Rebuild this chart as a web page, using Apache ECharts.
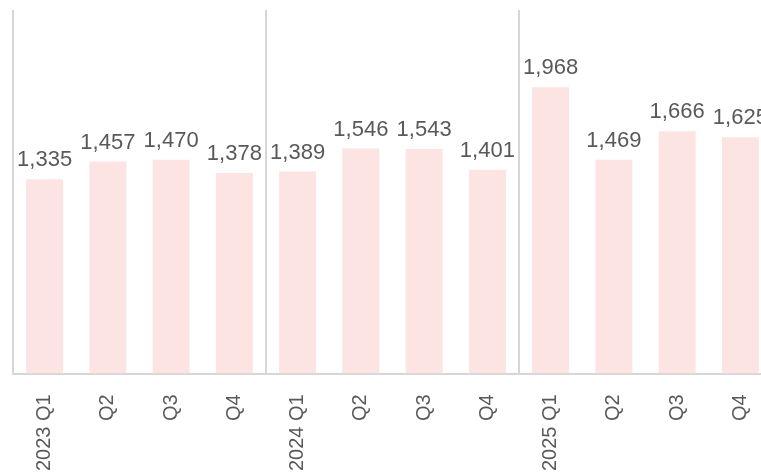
<!DOCTYPE html>
<html><head><meta charset="utf-8">
<script src="https://cdn.jsdelivr.net/npm/echarts@6/dist/echarts.min.js"></script>
<style>html,body{margin:0;padding:0;background:#fff;overflow:hidden;width:761px;height:474px}#c{width:790px;height:474px}</style>
</head><body><div id="c"></div>
<script>
const categories = ["2023 Q1","Q2","Q3","Q4","2024 Q1","Q2","Q3","Q4","2025 Q1","Q2","Q3","Q4"];
const values = [1335,1457,1470,1378,1389,1546,1543,1401,1968,1469,1666,1625];
const chart = echarts.init(document.getElementById('c'), null, {renderer:'canvas'});
chart.setOption({
  animation:false,
  grid:{left:13, top:10, width:759, bottom:98, containLabel:false},
  xAxis:{
    type:'category', data:categories, boundaryGap:true,
    axisLine:{show:true, lineStyle:{color:'#d6d6d6', width:2}},
    axisTick:{show:false},
    axisLabel:{rotate:90, interval:0, margin:21, color:'#595959', fontSize:20, fontFamily:'Liberation Sans'},
    splitLine:{show:true, interval:function(i){return i%4===0;}, lineStyle:{color:'#d6d6d6', width:2}}
  },
  yAxis:{type:'value', min:0, max:2500, show:false, splitLine:{show:false}},
  series:[{
    type:'bar', data:values, barWidth:37,
    itemStyle:{color:'#fce4e3'},
    label:{show:true, position:'top', distance:8, color:'#595959', fontSize:22, fontFamily:'Liberation Sans',
      formatter:function(p){return p.value.toLocaleString('en-US');}}
  }]
});
</script></body></html>
